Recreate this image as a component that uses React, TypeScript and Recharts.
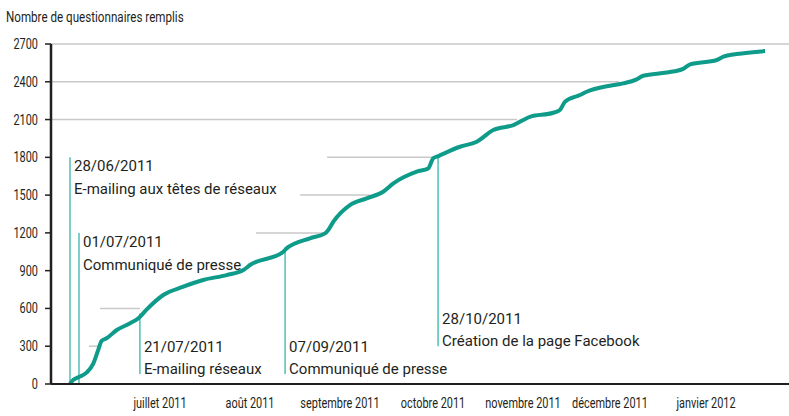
import { LineChart, Line, XAxis, YAxis, ReferenceLine } from "recharts";

if (typeof document !== "undefined") document.body.style.margin = "0";

// jours depuis le 28/06/2011
const days = [
  0, 1, 3, 5.5, 7.8, 9.4, 10.6, 12.2, 15.6, 20, 22.8, 25.6, 31.1, 37.8, 44.4, 52.2, 57.8, 60,
  71.1, 72.2, 80, 85, 86.1, 87.8, 93.3, 98.9, 104.4, 107.8, 115.6, 119.4, 121.1, 122.8, 130,
  135.6, 141.1, 147.8, 153.3, 161.1, 163.3, 165, 170, 172.2, 180, 184.4, 188.9, 191.1, 198.9,
  204.4, 206.7, 215.6, 217.8, 222.2, 231.7,
];
const counts = [
  0, 30, 56, 90, 164, 270, 344, 363, 429, 482, 522, 593, 707, 773, 826, 865, 905, 945, 1050,
  1077, 1157, 1196, 1223, 1289, 1421, 1474, 1527, 1593, 1686, 1712, 1792, 1810, 1884, 1924,
  2017, 2056, 2122, 2154, 2176, 2241, 2295, 2321, 2369, 2387, 2419, 2448, 2474, 2503, 2538,
  2573, 2599, 2620, 2644,
];

const yTicks = [0, 300, 600, 900, 1200, 1500, 1800, 2100, 2400, 2700];
const monthTicks = [30, 60, 90, 121, 151, 180, 212];
const monthLabels = [
  "juillet 2011",
  "août 2011",
  "septembre 2011",
  "octobre 2011",
  "novembre 2011",
  "décembre 2011",
  "janvier 2012",
];

const X_MIN = -6.33;
const X_MAX = 239.67;

// morceaux de grille visibles (niveau, début, fin en jours)
const gridLevels = [2700, 2400, 2100, 1800, 1500, 1200, 600, 300];
const gridFrom = [X_MIN, X_MIN, X_MIN, 85.7, 76.7, 62, 10, 6.3];
const gridTo = [X_MAX, 183, 149, 122.8, 100, 84, 23.3, 10];

const annDays = [0, 3, 23.3, 71.7, 122.7];
const annTop = [1800, 1200, 560, 1060, 1800];
const annBottom = [0, 0, 80, 80, 300];
const annDates = ["28/06/2011", "01/07/2011", "21/07/2011", "07/09/2011", "28/10/2011"];
const annTexts = [
  "E-mailing aux têtes de réseaux",
  "Communiqué de presse",
  "E-mailing réseaux",
  "Communiqué de presse",
  "Création de la page Facebook",
];
const annAtTop = [true, true, false, false, false];

const rows = days.map((d, i) => ({ day: d, value: counts[i] }));

const TEAL = "#0e9b89";
const TEAL_LIGHT = "#4fc0b6";
const GRID = "#c9c9c9";
const INK = "#231f20";
const LABEL_FONT = "Roboto, sans-serif";

function NarrowText({ x, y, anchor, squeeze = 0.78, children }: any) {
  return (
    <text
      transform={`translate(${x},${y}) scale(${squeeze},1)`}
      textAnchor={anchor}
      fontFamily={LABEL_FONT}
      fontSize={14}
      fill={INK}
    >
      {children}
    </text>
  );
}

function MonthTick({ x, y, payload }: any) {
  const i = monthTicks.indexOf(payload.value);
  return <NarrowText x={x} y={y + 10} anchor="middle">{monthLabels[i] ?? ""}</NarrowText>;
}

function CountTick({ x, y, payload }: any) {
  return <NarrowText x={x} y={y + 5} anchor="end">{payload.value}</NarrowText>;
}

function AnnLabel({ viewBox, i }: any) {
  if (!viewBox) return null;
  const x = viewBox.x + 4;
  const top = viewBox.y;
  const bottom = viewBox.y + viewBox.height;
  const b1 = annAtTop[i] ? top + 14 : bottom - 22;
  const b2 = annAtTop[i] ? top + 37 : bottom;
  return (
    <g fontFamily={LABEL_FONT} fontSize={15} fill={INK}>
      <text x={x} y={b1}>{annDates[i]}</text>
      <text x={x} y={b2}>{annTexts[i]}</text>
    </g>
  );
}

export default function App() {
  return (
    <div style={{ position: "relative", width: 789, height: 416, background: "#fff" }}>
      <svg style={{ position: "absolute", left: 0, top: 0 }} width={300} height={30}>
        <NarrowText x={6} y={22} anchor="start" squeeze={0.83}>
          Nombre de questionnaires remplis
        </NarrowText>
      </svg>
      <LineChart width={789} height={416} data={rows} margin={{ top: 44, right: 0, bottom: 2, left: 0 }}>
        <XAxis
          type="number"
          dataKey="day"
          domain={[X_MIN, X_MAX]}
          allowDataOverflow
          ticks={monthTicks}
          height={30}
          tickLine={false}
          tickMargin={8}
          axisLine={{ stroke: INK, strokeWidth: 2 }}
          tick={<MonthTick />}
          interval={0}
        />
        <YAxis
          type="number"
          domain={[0, 2700]}
          ticks={yTicks}
          width={51}
          tickSize={6}
          tickMargin={7}
          axisLine={{ stroke: INK, strokeWidth: 2.5 }}
          tickLine={{ stroke: INK, strokeWidth: 1.5 }}
          tick={<CountTick />}
          interval={0}
        />
        {gridLevels.map((lv, i) => (
          <ReferenceLine
            key={"g" + lv}
            segment={[
              { x: gridFrom[i], y: lv },
              { x: gridTo[i], y: lv },
            ]}
            stroke={GRID}
            strokeWidth={1.5}
          />
        ))}
        {annDays.map((d, i) => (
          <ReferenceLine
            key={"a" + i}
            segment={[
              { x: d, y: annTop[i] },
              { x: d, y: annBottom[i] },
            ]}
            stroke={TEAL_LIGHT}
            strokeWidth={1.5}
            label={(p: any) => <AnnLabel viewBox={p.viewBox} i={i} />}
          />
        ))}
        <Line
          type="monotone"
          dataKey="value"
          stroke={TEAL}
          strokeWidth={4}
          dot={false}
          isAnimationActive={false}
        />
      </LineChart>
    </div>
  );
}
